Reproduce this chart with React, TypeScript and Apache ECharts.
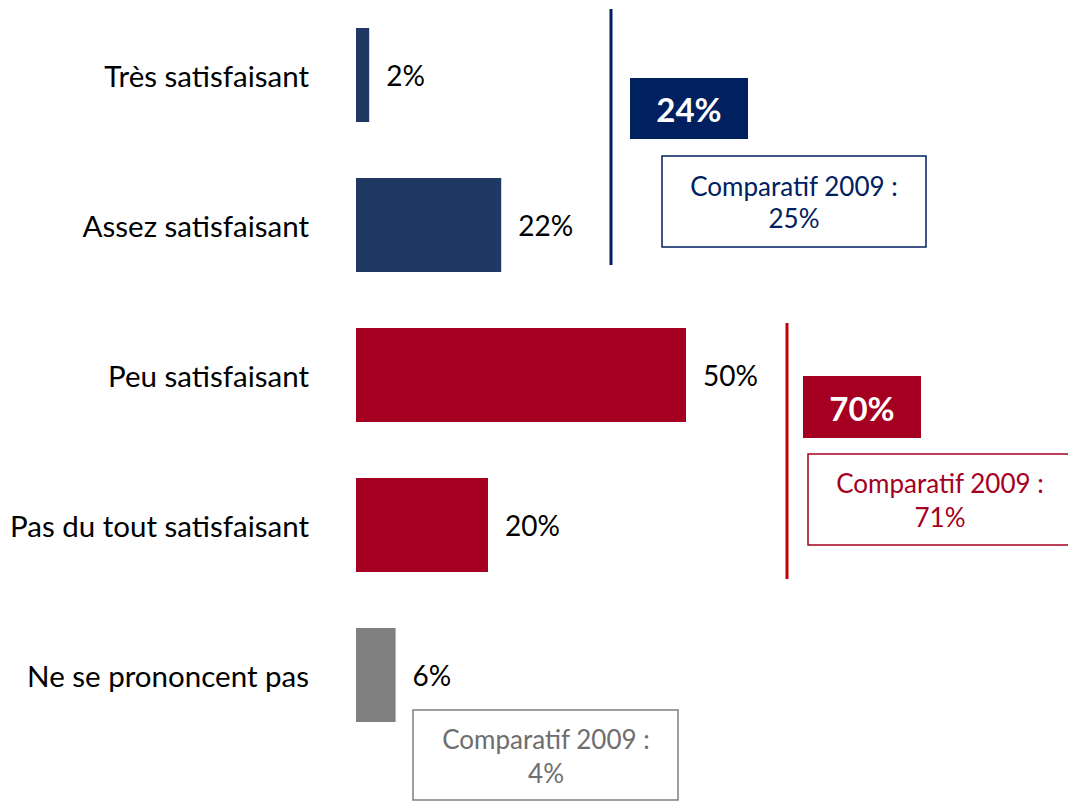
import React, { useEffect, useRef } from "react";
import * as echarts from "echarts";

const categories = [
  "Très satisfaisant",
  "Assez satisfaisant",
  "Peu satisfaisant",
  "Pas du tout satisfaisant",
  "Ne se prononcent pas",
];
const values = [2, 22, 50, 20, 6];
const barColors = ["#203864", "#203864", "#A50021", "#A50021", "#808080"];
const groupTotals = [24, 70];
const comparatif2009 = [25, 71, 4];

const FONT = "Lato";

export default function App() {
  const ref = useRef<HTMLDivElement>(null);
  useEffect(() => {
    if (!ref.current) return;
    const chart = echarts.init(ref.current, null, { renderer: "svg" });
    const navy = "#002060";
    const red = "#A50021";
    const brightRed = "#C00000";
    const gray = "#7F7F7F";
    const compText = (v: number) => `Comparatif 2009 :\n${v}%`;
    chart.setOption({
      animation: false,
      backgroundColor: "#ffffff",
      grid: { left: 356, top: -3, height: 753, width: 660, containLabel: false },
      xAxis: { type: "value", min: 0, max: 100, show: false },
      yAxis: {
        type: "category",
        data: categories,
        inverse: true,
        axisLine: { show: false },
        axisTick: { show: false },
        splitLine: { show: false },
        axisLabel: {
          margin: 47,
          color: "#000000",
          fontSize: 29.5,
          fontFamily: FONT,
          padding: [0, 0, 10, 0],
        },
      },
      series: [
        {
          type: "bar",
          barWidth: 94,
          data: values.map((v, i) => ({ value: v, itemStyle: { color: barColors[i] } })),
          label: {
            show: true,
            position: "right",
            distance: 17,
            formatter: (p: any) => `${p.value}%`,
            color: "#000000",
            fontSize: 28,
            fontFamily: FONT,
          },
        },
      ],
      graphic: [
        { type: "line", shape: { x1: 611, y1: 9, x2: 611, y2: 265 }, style: { stroke: navy, lineWidth: 3 } },
        { type: "rect", shape: { x: 630, y: 78, width: 118, height: 61 }, style: { fill: navy } },
        {
          type: "text", x: 689, y: 109,
          style: { text: `${groupTotals[0]}%`, fill: "#ffffff", fontSize: 33, fontWeight: "bold", fontFamily: FONT, align: "center", verticalAlign: "middle" },
        },
        { type: "rect", shape: { x: 662, y: 156, width: 264, height: 91 }, style: { fill: "#ffffff", stroke: navy, lineWidth: 1.5 } },
        {
          type: "text", x: 794, y: 202,
          style: { text: compText(comparatif2009[0]), fill: navy, fontSize: 26, fontFamily: FONT, align: "center", verticalAlign: "middle", lineHeight: 32 },
        },
        { type: "line", shape: { x1: 787, y1: 323, x2: 787, y2: 579 }, style: { stroke: brightRed, lineWidth: 3 } },
        { type: "rect", shape: { x: 803, y: 376, width: 118, height: 62 }, style: { fill: red } },
        {
          type: "text", x: 862, y: 408,
          style: { text: `${groupTotals[1]}%`, fill: "#ffffff", fontSize: 33, fontWeight: "bold", fontFamily: FONT, align: "center", verticalAlign: "middle" },
        },
        { type: "rect", shape: { x: 808, y: 454, width: 280, height: 91 }, style: { fill: "#ffffff", stroke: red, lineWidth: 1.5 } },
        {
          type: "text", x: 940, y: 500,
          style: { text: compText(comparatif2009[1]), fill: red, fontSize: 26, fontFamily: FONT, align: "center", verticalAlign: "middle", lineHeight: 34 },
        },
        { type: "rect", shape: { x: 413, y: 710, width: 265, height: 90 }, style: { fill: "#ffffff", stroke: gray, lineWidth: 1.5 } },
        {
          type: "text", x: 546, y: 756,
          style: { text: compText(comparatif2009[2]), fill: "#6E6E6E", fontSize: 26, fontFamily: FONT, align: "center", verticalAlign: "middle", lineHeight: 34 },
        },
      ],
    });
    return () => chart.dispose();
  }, []);
  return (
    <div
      ref={ref}
      style={{ position: "fixed", left: 0, top: 0, width: 1068, height: 802, background: "#ffffff" }}
    />
  );
}
